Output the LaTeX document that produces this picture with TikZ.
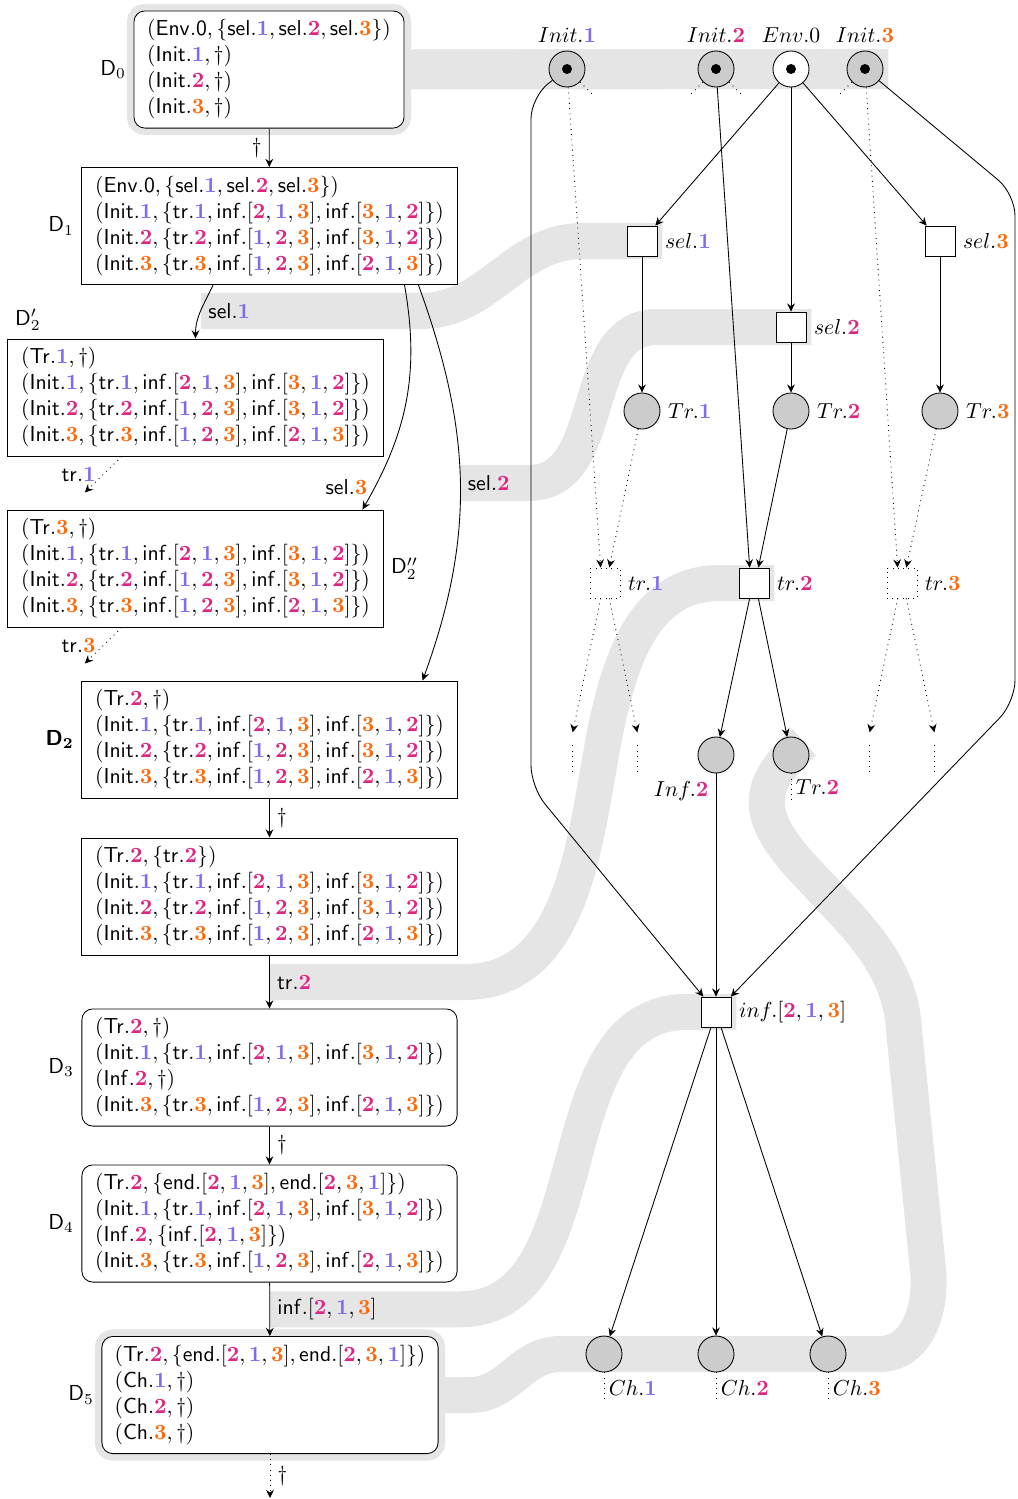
\documentclass[tikz,border=0pt]{standalone}
\usepackage{amsmath}
\usepackage{amssymb}
\usepackage{xcolor}
\usetikzlibrary{calc,backgrounds,arrows.meta}

\definecolor{uno}{RGB}{125,108,240}
\definecolor{dos}{RGB}{222,38,128}
\definecolor{tres}{RGB}{255,105,10}
\newcommand{\nA}{{\color{uno}\mathbf{1}}}
\newcommand{\nB}{{\color{dos}\mathbf{2}}}
\newcommand{\nC}{{\color{tres}\mathbf{3}}}
\newcommand{\ent}[1]{\mathsf{#1}}
\newcommand{\rowA}{(\ent{Init}.\nA, \{\ent{tr}.\nA, \ent{inf}.[\nB,\nA,\nC], \ent{inf}.[\nC,\nA,\nB]\})}
\newcommand{\rowB}{(\ent{Init}.\nB, \{\ent{tr}.\nB, \ent{inf}.[\nA,\nB,\nC], \ent{inf}.[\nC,\nA,\nB]\})}
\newcommand{\rowC}{(\ent{Init}.\nC, \{\ent{tr}.\nC, \ent{inf}.[\nA,\nB,\nC], \ent{inf}.[\nB,\nA,\nC]\})}
\newcommand{\trrow}{(\ent{Tr}.\nB, \{\ent{end}.[\nB,\nA,\nC], \ent{end}.[\nB,\nC,\nA]\})}
\newcommand{\envrow}{(\ent{Env.0}, \{\ent{sel}.\nA, \ent{sel}.\nB, \ent{sel}.\nC\})}

\begin{document}
\begin{tikzpicture}[
      x=0.01621cm, y=0.01621cm, >={Stealth[length=3.8pt,width=3.6pt,inset=1.3pt]},
      conf/.style={draw, fill=white, align=left, inner xsep=4.6pt, inner ysep=4pt,
                   minimum width=173pt},
      confr/.style={conf, rounded corners=5pt},
      halo/.style={preaction={draw=gray!20, line width=6.5pt}},
      flow/.style={->},
      band/.style={draw=gray!20, line width=16.6pt},
      place/.style={circle, draw, fill=gray!40, minimum size=16.6pt, inner sep=0pt},
      token/.style={path picture={\fill[black] (path picture bounding box.center) circle (2.3pt);}},
      trans/.style={draw, fill=white, minimum size=13.8pt, inner sep=0pt},
      ghost/.style={trans, dotted}
    ]
    \useasboundingbox (0,0) rectangle (1017,-1499);

    % configurations
    \node[confr, halo, minimum width=124.5pt] (d0) at (269,-69.5)
      {$\envrow$\\ $(\ent{Init}.\nA, \dagger)$\\ $(\ent{Init}.\nB, \dagger)$\\ $(\ent{Init}.\nC, \dagger)$};
    \node[conf] (d1) at (269.5,-226) {$\envrow$\\ $\rowA$\\ $\rowB$\\ $\rowC$};
    \node[conf] (d2a) at (195.5,-397.5) {$(\ent{Tr}.\nA, \dagger)$\\ $\rowA$\\ $\rowB$\\ $\rowC$};
    \node[conf] (d2b) at (195.5,-568.5) {$(\ent{Tr}.\nC, \dagger)$\\ $\rowA$\\ $\rowB$\\ $\rowC$};
    \node[conf] (d2) at (269.5,-739.5) {$(\ent{Tr}.\nB, \dagger)$\\ $\rowA$\\ $\rowB$\\ $\rowC$};
    \node[conf] (d2c) at (269.5,-896.5) {$(\ent{Tr}.\nB, \{\ent{tr}.\nB\})$\\ $\rowA$\\ $\rowB$\\ $\rowC$};
    \node[confr] (d3) at (269.5,-1067.5) {$(\ent{Tr}.\nB, \dagger)$\\ $\rowA$\\ $(\ent{Inf}.\nB, \dagger)$\\ $\rowC$};
    \node[confr] (d4) at (269.5,-1223.5)
      {$\trrow$\\ $\rowA$\\ $(\ent{Inf}.\nB, \{\ent{inf}.[\nB,\nA,\nC]\})$\\ $\rowC$};
    \node[confr, halo, minimum width=155pt] (d5) at (270,-1395)
      {$\trrow$\\ $(\ent{Ch}.\nA, \dagger)$\\ $(\ent{Ch}.\nB, \dagger)$\\ $(\ent{Ch}.\nC, \dagger)$};

    \node[left] at (d0.west) {$\ent{D}_0$};
    \node[left] at (d1.west) {$\ent{D}_1$};
    \node[above right] at (d2a.north west) {$\ent{D}'_2$};
    \node[right] at (d2b.east) {$\ent{D}''_2$};
    \node[left] at (d2.west) {$\text{\sffamily\bfseries D}_{\mathbf{2}}$};
    \node[left] at (d3.west) {$\ent{D}_3$};
    \node[left] at (d4.west) {$\ent{D}_4$};
    \node[left] at (d5.west) {$\ent{D}_5$};

    \draw[flow] (d0) -- (d1) node[midway,left] {$\dagger$};
    \draw[flow] ($(d1.south west)!.35!(d1.south east)$) to[out=-115,in=90]
      node[midway,right] (lsel1) {$\ent{sel}.\nA$} (d2a.north);
    \draw[flow] ($(d1.south west)!.859!(d1.south east)$) to[out=-80,in=60]
      node[pos=.9,left] {$\ent{sel}.\nC$} ($(d2b.north west)!.944!(d2b.north east)$);
    \draw[flow] ($(d1.south west)!.896!(d1.south east)$) to[out=-70,in=70]
      node[midway,right] (lsel2) {$\ent{sel}.\nB$} ($(d2.north west)!.907!(d2.north east)$);
    \draw[flow,dotted] ($(d2a.south west)!.304!(d2a.south east)$) -- ++(-37,-36)
      node[midway,left] {$\ent{tr}.\nA$};
    \draw[flow,dotted] ($(d2b.south west)!.304!(d2b.south east)$) -- ++(-37,-36)
      node[midway,left] {$\ent{tr}.\nC$};
    \draw[flow] (d2) -- (d2c) node[midway,right] {$\dagger$};
    \draw[flow] (d2c) -- (d3) node[midway,right] (ltr2) {$\ent{tr}.\nB$};
    \draw[flow] (d3) -- (d4) node[midway,right] {$\dagger$};
    \draw[flow] (d4) -- (d5) node[midway,right] (linf) {$\ent{inf}.[\nB,\nA,\nC]$};
    \draw[flow,dotted] (d5.south) -- ++(0,-44) node[midway,right] {$\dagger$};

    % net
    \node[place, token, label=above:$Init.\nA$] (i1) at (567,-69) {};
    \node[place, token, label=above:$Init.\nB$] (i2) at (716,-69) {};
    \node[place, token, fill=white, label=above:$Env.0$] (env) at (791,-69) {};
    \node[place, token, label=above:$Init.\nC$] (i3) at (865,-69) {};
    \node[trans, label=right:$sel.\nA$] (s1) at (642,-241) {};
    \node[trans, label=right:$sel.\nB$] (s2) at (791,-327) {};
    \node[trans, label=right:$sel.\nC$] (s3) at (940,-241) {};
    \node[place, label=right:$Tr.\nA$] (p1) at (642,-411) {};
    \node[place, label=right:$Tr.\nB$] (p2) at (791,-411) {};
    \node[place, label=right:$Tr.\nC$] (p3) at (940,-411) {};
    \node[ghost, label=right:$tr.\nA$] (t1) at (605,-583) {};
    \node[trans, label=right:$tr.\nB$] (t2) at (754,-583) {};
    \node[ghost, label=right:$tr.\nC$] (t3) at (902,-583) {};
    \node[place] (f2) at (716,-755) {};
    \node[anchor=north east] at (f2.south) {$Inf.\nB$};
    \node[place] (q2) at (791,-755) {};
    \draw[dotted] (q2.south) -- ++(0,-27) node[midway,right,inner sep=2pt] {$Tr.\nB$};
    \node[trans, label={right:$inf.[\nB,\nA,\nC]$}] (x) at (716,-1012) {};
    \foreach \k/\cx/\lab in {1/604/\nA, 2/716/\nB, 3/828/\nC} {
      \node[place] (c\k) at (\cx,-1354) {};
      \draw[dotted] (c\k.south) -- ++(0,-31) node[midway,right,inner sep=2pt] {$Ch.\lab$};
      \draw[flow] (x) -- (c\k);
    }

    \draw[flow] (env) -- (s1);
    \draw[flow] (env) -- (s2);
    \draw[flow] (env) -- (s3);
    \draw[flow] (s1) -- (p1);
    \draw[flow] (s2) -- (p2);
    \draw[flow] (s3) -- (p3);
    \draw[flow] (i2) -- ([xshift=-2pt]t2.north);
    \draw[flow] (p2) -- ([xshift=2pt]t2.north);
    \draw[flow,dotted] (i1) -- ([xshift=-2pt]t1.north);
    \draw[flow,dotted] (p1) -- ([xshift=2pt]t1.north);
    \draw[flow,dotted] (i3) -- ([xshift=-2pt]t3.north);
    \draw[flow,dotted] (p3) -- ([xshift=2pt]t3.north);
    \draw[flow] ([xshift=-2pt]t2.south) -- (f2);
    \draw[flow] ([xshift=2pt]t2.south) -- (q2);
    \draw[flow] (f2) -- (x);
    \draw[flow, rounded corners=10pt] (i1) -- (531,-97) -- (531,-787) -- (x);
    \draw[flow, rounded corners=10pt] (i3) -- (1015,-194) -- (1015,-702) -- (x);
    \foreach \t in {t1,t3} {
      \draw[flow,dotted] ([xshift=-2pt]\t.south) -- ++(-28,-134) coordinate (\t-l);
      \draw[flow,dotted] ([xshift=2pt]\t.south) -- ++(28,-134) coordinate (\t-r);
      \draw[dotted] ($(\t-l)+(0,-13)$) -- ++(0,-27);
      \draw[dotted] ($(\t-r)+(0,-13)$) -- ++(0,-27);
    }
    \draw[dotted] (i1.-45) -- ++(-45:8pt);
    \draw[dotted] (i2.-135) -- ++(-135:8pt);
    \draw[dotted] (i2.-45) -- ++(-45:8pt);
    \draw[dotted] (i3.-135) -- ++(-135:8pt);

    \begin{pgfonlayer}{background}
      \draw[band, line width=18.5pt] (d0.center) -- ($(i3.east)+(5,0)$);
      \draw[band] (lsel1.west) -- ++(220,0) to[out=0,in=180] ($(s1.east)+(-75,0)$) -- ($(s1.east)+(5,0)$);
      \draw[band] (lsel2.west) -- ++(70,0) to[out=0,in=180] ($(s2.east)+(-150,0)$) -- ($(s2.east)+(5,0)$);
      \draw[band] (ltr2.west) -- ++(195,0) to[out=0,in=-100] (600,-760)
        to[out=80,in=180] ($(t2.east)+(-50,0)$) -- ($(t2.east)+(5,0)$);
      \draw[band] (linf.west) -- ++(190,0) to[out=0,in=180] ($(x.east)+(-45,0)$) -- ($(x.east)+(5,0)$);
      \draw[band] (d5.center) -- (470,-1395) to[out=0,in=180] (560,-1354) -- (880,-1354)
        to[out=0,in=-84] (928,-1270) -- (904,-1030)
        .. controls (900,-960) and (850,-920) .. (800,-865)
        .. controls (755,-815) and (755,-785) .. (q2.north east);
    \end{pgfonlayer}
  \end{tikzpicture}
\end{document}
